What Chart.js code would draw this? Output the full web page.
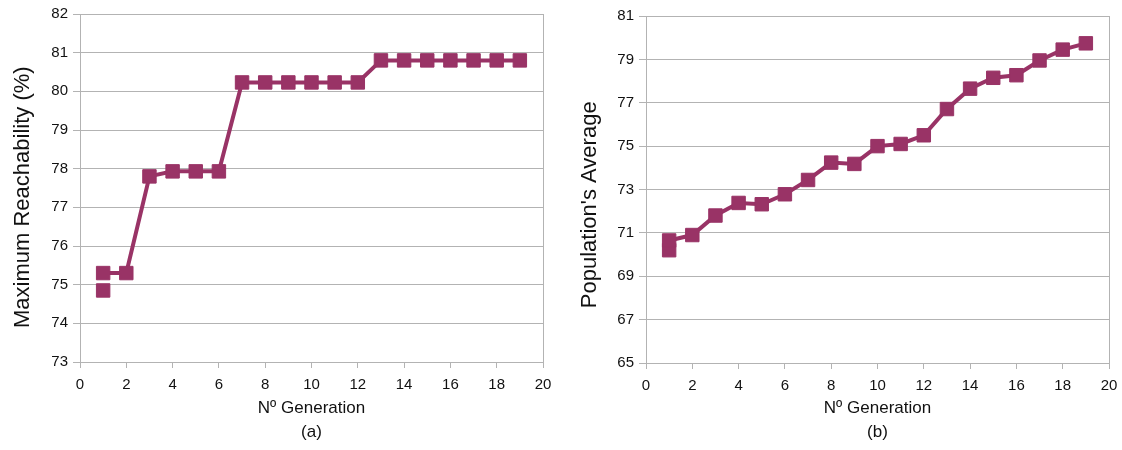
<!DOCTYPE html>
<html>
<head>
<meta charset="utf-8">
<script src="https://cdn.jsdelivr.net/npm/chart.js@4/dist/chart.umd.min.js"></script>
<style>
  html, body { margin: 0; padding: 0; background: #fff; overflow: hidden; }
  .panel { position: absolute; top: 0; height: 450px; }
  #wrapA { left: 0; width: 560px; }
  #wrapB { left: 560px; width: 562px; }
</style>
</head>
<body>
<div class="panel" id="wrapA"><canvas id="chartA"></canvas></div>
<div class="panel" id="wrapB"><canvas id="chartB"></canvas></div>
<script>
// generations 1..19
const generations = [1, 2, 3, 4, 5, 6, 7, 8, 9, 10, 11, 12, 13, 14, 15, 16, 17, 18, 19];

// (a) maximum reachability (%)
const maxReach = [75.3, 75.3, 77.8, 77.93, 77.93, 77.93, 80.23, 80.23, 80.23, 80.23, 80.23, 80.23,
                  80.8, 80.8, 80.8, 80.8, 80.8, 80.8, 80.8];
const maxReachExtra = [74.85];   // second marker at generation 1

// (b) population's average
const popAvg = [70.65, 70.9, 71.8, 72.38, 72.32, 72.78, 73.44, 74.24, 74.18, 75.0, 75.1, 75.5,
                76.71, 77.65, 78.15, 78.27, 78.95, 79.45, 79.74];
const popAvgExtra = [70.2];

const xTicks = [0, 2, 4, 6, 8, 10, 12, 14, 16, 18, 20];
const yTicksA = [73, 74, 75, 76, 77, 78, 79, 80, 81, 82];
const yTicksB = [65, 67, 69, 71, 73, 75, 77, 79, 81];

const COLOR = '#993366';
const GRID = '#b3b3b3';
const FONT = 'Liberation Sans, Arial, sans-serif';

function toPoints(values) {
    return values.map((v, i) => ({ x: generations[i], y: v }));
}

function buildChart(id, opts) {
    return new Chart(document.getElementById(id), {
        type: 'line',
        data: {
            datasets: [
                {
                    data: toPoints(opts.values),
                    borderColor: COLOR,
                    backgroundColor: COLOR,
                    borderWidth: 4,
                    pointStyle: 'rect',
                    pointRadius: 9.5,
                    pointBorderWidth: 1,
                    tension: 0
                },
                {
                    data: toPoints(opts.extra),
                    showLine: false,
                    borderColor: COLOR,
                    backgroundColor: COLOR,
                    pointStyle: 'rect',
                    pointRadius: 9.5,
                    pointBorderWidth: 1
                }
            ]
        },
        options: {
            responsive: true,
            maintainAspectRatio: false,
            animation: false,
            layout: { padding: opts.padding, autoPadding: false },
            plugins: {
                legend: { display: false },
                tooltip: { enabled: false }
            },
            scales: {
                x: {
                    type: 'linear',
                    min: 0,
                    max: 20,
                    afterBuildTicks: axis => { axis.ticks = xTicks.map(v => ({ value: v })); },
                    afterFit: axis => {
                        axis.height = opts.xHeight;
                        axis.paddingLeft = 0;
                        axis.paddingRight = 0;
                    },
                    grid: {
                        color: ctx => (ctx.tick && ctx.tick.value === 20) ? GRID : 'rgba(0,0,0,0)',
                        tickColor: GRID,
                        tickLength: 6
                    },
                    border: { color: GRID },
                    ticks: { color: '#111', font: { family: FONT, size: 15 }, padding: 8, maxRotation: 0 },
                    title: {
                        display: true,
                        text: ['N\u00ba Generation', opts.caption],
                        color: '#111',
                        font: { family: FONT, size: 17, lineHeight: 1.41 },
                        padding: { top: 0, bottom: 6 }
                    }
                },
                y: {
                    min: opts.yTicks[0],
                    max: opts.yTicks[opts.yTicks.length - 1],
                    afterBuildTicks: axis => { axis.ticks = opts.yTicks.map(v => ({ value: v })); },
                    afterFit: axis => { axis.width = opts.yWidth; },
                    grid: { color: GRID, tickColor: GRID, tickLength: 7 },
                    border: { color: GRID },
                    ticks: { color: '#111', font: { family: FONT, size: 15 }, padding: 5 },
                    title: {
                        display: true,
                        // trailing spaces nudge the rotated title down a little, as in the original
                        text: opts.yTitle + opts.yTitleShift,
                        color: '#111',
                        font: { family: FONT, size: 22 },
                        padding: { top: opts.yTitlePad, bottom: 0 }
                    }
                }
            }
        }
    });
}

buildChart('chartA', {
    values: maxReach,
    extra: maxReachExtra,
    yTicks: yTicksA,
    yTitle: 'Maximum Reachability (%)',
    yTitleShift: '\u00a0\u00a0\u00a0',
    yTitlePad: 10,
    caption: '(a)',
    yWidth: 80,
    xHeight: 88,
    padding: { top: 14, right: 17, left: 0, bottom: 0 }
});

buildChart('chartB', {
    values: popAvg,
    extra: popAvgExtra,
    yTicks: yTicksB,
    yTitle: "Population's Average",
    yTitleShift: '\u00a0\u00a0\u00a0\u00a0\u00a0',
    yTitlePad: 17,
    caption: '(b)',
    yWidth: 86,
    xHeight: 87,
    padding: { top: 16, right: 13, left: 0, bottom: 0 }
});
</script>
</body>
</html>
